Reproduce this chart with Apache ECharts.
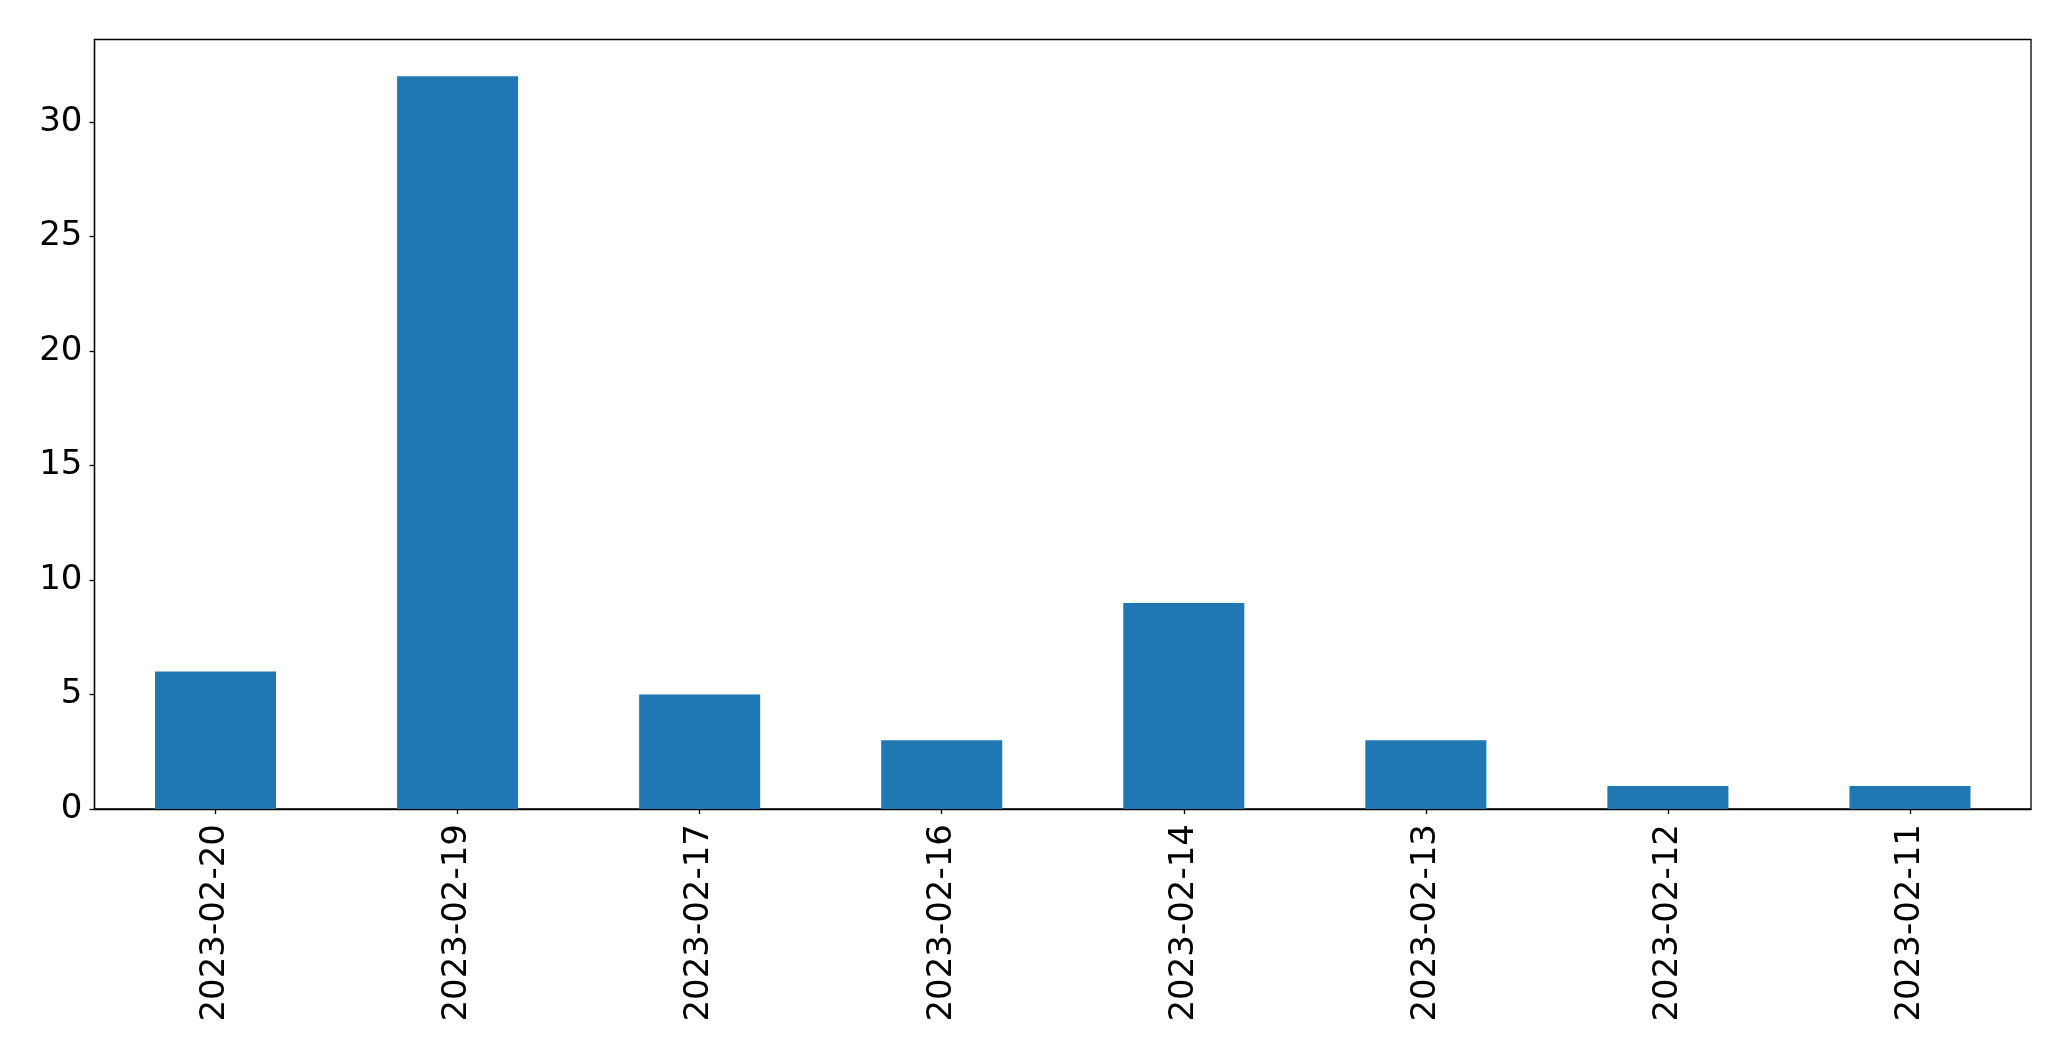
<!DOCTYPE html>
<html>
<head>
<meta charset="utf-8">
<script src="https://cdn.jsdelivr.net/npm/echarts@6/dist/echarts.min.js"></script>
<style>
html,body{margin:0;padding:0;background:#fff;}
#chart{width:2071px;height:1061px;}
</style>
</head>
<body>
<div id="chart"></div>
<script>
const categories = ['2023-02-20','2023-02-19','2023-02-17','2023-02-16','2023-02-14','2023-02-13','2023-02-12','2023-02-11'];
const counts = [6, 32, 5, 3, 9, 3, 1, 1];
const yTicks = [0, 5, 10, 15, 20, 25, 30];
const yMax = 33.6;

const chart = echarts.init(document.getElementById('chart'), null, {renderer: 'canvas'});
const font = 'DejaVu Sans';
chart.setOption({
  animation: false,
  backgroundColor: '#ffffff',
  grid: {
    left: 94.5, right: 40, top: 39.5, bottom: 252,
    show: true, borderColor: '#000', borderWidth: 1.3, backgroundColor: 'transparent'
  },
  xAxis: {
    type: 'category',
    data: categories,
    axisLine: {show: true, lineStyle: {color: '#000', width: 1.3}},
    axisTick: {show: true, alignWithLabel: true, length: 5, lineStyle: {color: '#000', width: 1.3}},
    axisLabel: {rotate: 90, margin: 15, color: '#000', fontFamily: font, fontSize: 34},
    splitLine: {show: false}
  },
  yAxis: {
    type: 'value',
    min: 0, max: yMax, interval: 5,
    axisLine: {show: true, lineStyle: {color: '#000', width: 1.3}},
    axisTick: {show: true, length: 5, customValues: yTicks, lineStyle: {color: '#000', width: 1.3}},
    axisLabel: {margin: 12, color: '#000', fontFamily: font, fontSize: 34, customValues: yTicks},
    splitLine: {show: false}
  },
  series: [{
    type: 'bar',
    data: counts,
    barWidth: '50%',
    itemStyle: {color: '#1f77b4'}
  }]
});
</script>
</body>
</html>
